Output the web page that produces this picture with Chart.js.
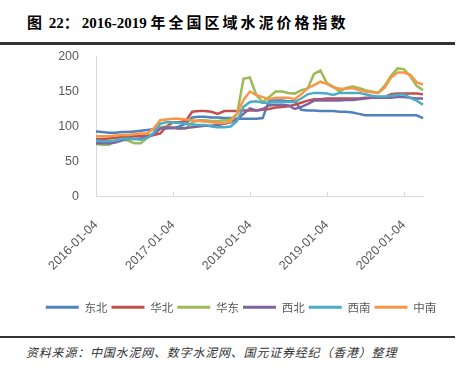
<!DOCTYPE html>
<html><head><meta charset="utf-8">
<script src="https://cdn.jsdelivr.net/npm/chart.js@4.4.1/dist/chart.umd.min.js"></script>
<style>
html,body{margin:0;padding:0;background:#fff;width:458px;height:374px;overflow:hidden;position:relative;}
#title{position:absolute;left:27px;top:11px;font:bold 15px "Liberation Serif","Noto Sans CJK SC";color:#000;white-space:nowrap;}
.cj{letter-spacing:3px;font-family:"Noto Sans CJK SC";}
#topline{position:absolute;left:0;top:42px;width:455px;height:3px;background:#333;}
#botline{position:absolute;left:0;top:336px;width:455px;height:1.5px;background:#333;}
#src{position:absolute;left:26px;top:343px;font:italic 12px "Noto Sans CJK SC";letter-spacing:0.8px;color:#333;white-space:nowrap;}
#c{position:absolute;left:0;top:32px;}
</style></head>
<body>
<div id="title"><span class="cj">图</span> 22<span class="cj">：</span>2016-2019 <span class="cj">年全国区域水泥价格指数</span></div>
<div id="topline"></div>
<canvas id="c" width="458" height="293"></canvas>
<div id="botline"></div>
<div id="src">资料来源：中国水泥网、数字水泥网、国元证券经纪（香港）整理</div>
<script>
// monthly sample dates 2016-01 .. 2020-04
const dates = [];
for (let y = 2016; y <= 2020; y++) {
  for (let m = 1; m <= 12; m++) {
    if (y === 2020 && m > 4) break;
    dates.push(y + '-' + String(m).padStart(2, '0') + '-04');
  }
}
const yTicks = [0, 50, 100, 150, 200];
const seriesNames = ['东北', '华北', '华东', '西北', '西南', '中南'];
const dongbei = [93,92,91,91,92,92,93,94,95,96,97,97, 98,100,104,113,114,114,113,113,112,112,111,111, 111,111,112,137,137,137,136,136,124,123,123,122, 122,122,121,121,120,118,116,116,116,116,116,116, 116,116,116,112];
const huabei  = [82,82,83,84,85,85,86,86,87,88,90,100, 106,106,108,121,122,122,121,118,122,122,122,123, 123,123,124,125,127,128,129,131,134,137,139,139, 140,140,140,140,140,140,141,141,141,142,146,147, 147,147,147,146];
const huadong = [75,74,74,78,82,80,76,76,84,90,99,100, 99,97,97,106,109,109,108,108,109,110,118,168, 170,145,135,142,150,150,148,147,152,154,175,180, 162,157,150,155,157,155,152,150,148,158,172,183, 182,172,158,152];
const xibei   = [76,76,76,77,80,82,82,83,85,88,97,99, 98,97,98,99,100,101,101,102,104,106,110,118, 126,123,125,130,131,131,130,125,128,132,137,137, 137,137,137,138,138,139,140,141,141,141,141,142, 142,141,140,140];
const xinan   = [80,79,79,80,82,83,82,81,84,91,104,106, 106,105,104,103,102,102,100,99,99,100,108,128, 135,136,134,134,135,135,135,135,140,146,148,148, 147,145,148,148,148,148,146,144,143,143,144,145, 146,141,137,131];
const zhongnan= [86,86,86,87,88,88,89,90,90,97,109,110, 111,111,110,109,108,107,106,105,105,107,118,138, 150,145,142,139,141,141,141,139,146,155,159,164, 161,156,154,154,155,152,150,149,148,155,170,177, 177,174,163,160];

const values = [dongbei, huabei, huadong, xibei, xinan, zhongnan];
const colors = ['#4F81BD', '#C0504D', '#9BBB59', '#8064A2', '#4BACC6', '#F79646'];
const axisColor = '#D9D9D9';
const textColor = '#595959';

const datasets = seriesNames.map((n, i) => ({
  label: n,
  data: values[i],
  borderColor: colors[i],
  backgroundColor: colors[i],
  borderWidth: 2.5,
  pointRadius: 0,
  fill: false,
  tension: 0,
  order: seriesNames.length - i
}));

const innerTicks = {
  id: 'innerTicks',
  afterDraw(chart) {
    const xs = chart.scales.x, ctx = chart.ctx;
    const bottom = chart.chartArea.bottom;
    ctx.save();
    ctx.strokeStyle = axisColor;
    ctx.lineWidth = 1;
    dates.forEach((d, i) => {
      if (i % 12 === 0 && i > 0) {
        const x = Math.round(xs.getPixelForValue(i)) + 0.5;
        ctx.beginPath();
        ctx.moveTo(x, bottom - 5);
        ctx.lineTo(x, bottom);
        ctx.stroke();
      }
    });
    ctx.restore();
  }
};

new Chart(document.getElementById('c'), {
  type: 'line',
  data: { labels: dates, datasets },
  plugins: [innerTicks],
  options: {
    responsive: false,
    animation: false,
    layout: { padding: { left: 24, right: 0, top: 11, bottom: 2 } },
    plugins: {
      legend: {
        position: 'bottom',
        labels: {
          boxWidth: 33,
          boxHeight: 3,
          padding: 4,
          color: textColor,
          font: { family: '"Noto Sans CJK SC"', size: 11.5 },
          sort: (a, b) => a.datasetIndex - b.datasetIndex,
          generateLabels: (chart) => Chart.defaults.plugins.legend.labels.generateLabels(chart).map(l => Object.assign(l, { lineWidth: 0 }))
        }
      },
      tooltip: { enabled: false }
    },
    scales: {
      x: {
        type: 'category',
        offset: false,
        grid: { display: false },
        border: { display: true, color: axisColor, width: 1 },
        ticks: {
          autoSkip: false,
          minRotation: 45,
          maxRotation: 45,
          padding: 13,
          color: textColor,
          font: { family: '"Liberation Sans"', size: 12.5 },
          callback: (v, i) => (i % 12 === 0 ? dates[i] : null)
        },
        afterFit: (s) => { s.height = 101; }
      },
      y: {
        min: 0, max: 200,
        afterBuildTicks: (s) => { s.ticks = yTicks.map(v => ({ value: v })); },
        grid: { display: false, drawTicks: false },
        border: { display: true, color: axisColor, width: 1 },
        ticks: {
          padding: 17,
          color: textColor,
          font: { family: '"Liberation Sans"', size: 12.5 }
        },
        afterFit: (s) => { s.width = 72; }
      },
      yr: {
        position: 'right',
        display: true,
        grid: { display: false, drawTicks: false },
        border: { display: false },
        ticks: { display: false },
        afterFit: (s) => { s.width = 35; }
      }
    }
  }
});
</script>
</body></html>
